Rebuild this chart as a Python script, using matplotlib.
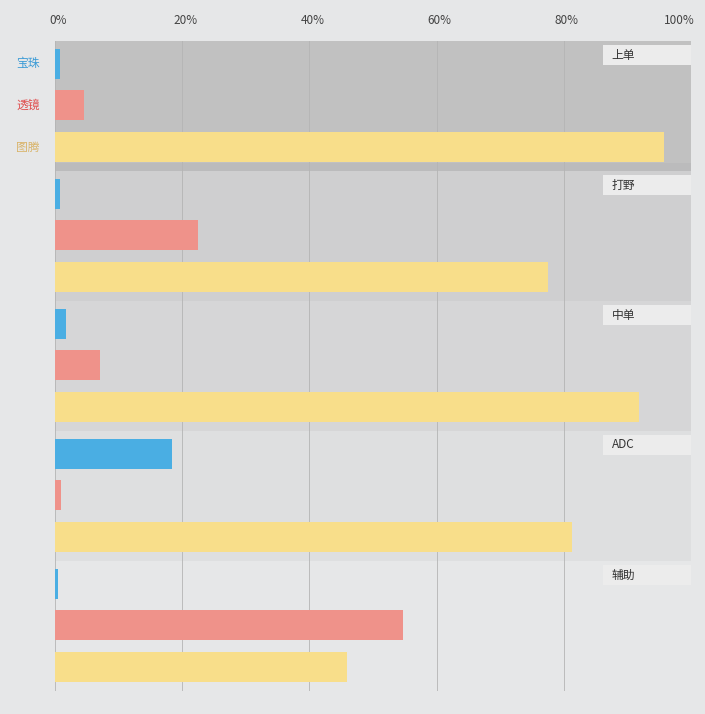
import matplotlib
matplotlib.use("Agg")
import matplotlib.pyplot as plt
from matplotlib.patches import Rectangle

plt.rcParams['font.family'] = ['Noto Sans CJK SC', 'DejaVu Sans']

roles = ["上单", "打野", "中单", "ADC", "辅助"]
items = ["宝珠", "透镜", "图腾"]
baozhu = [0.8, 0.8, 1.7, 18.4, 0.4]
toujing = [4.5, 22.5, 7.1, 1.0, 54.7]
tuteng = [95.7, 77.5, 91.8, 81.3, 45.9]
ticks = [0, 20, 40, 60, 80, 100]

colors = ["#4aaee3", "#ef928a", "#f8de8a"]
label_colors = ["#3b9bd6", "#e05050", "#d9b46a"]
band_colors = ["#c1c1c1", "#cfcfd0", "#d6d6d7", "#dedfe0", "#e6e7e8"]
bg = "#e6e7e8"

fig = plt.figure(figsize=(7.05, 7.14), dpi=100, facecolor=bg)
W, H = 705, 714
ax = fig.add_axes([55/W, (H-691)/H, 636/W, 650/H])
ax.set_facecolor(bg)
ax.set_xlim(0, 100)
ax.set_ylim(650, 0)

band_h = 130
for i, role in enumerate(roles):
    y0 = i*band_h
    ax.add_patch(Rectangle((0, y0), 100, band_h, color=band_colors[i], zorder=0, lw=0))
    if i == 0:
        ax.add_patch(Rectangle((0, y0+122), 100, 8, color="#bbbbbc", zorder=0.5, lw=0))
    vals = [baozhu[i], toujing[i], tuteng[i]]
    for j, v in enumerate(vals):
        ax.barh(y0 + [23, 64, 106][j], v, height=30, color=colors[j], zorder=2, lw=0)
    ax.add_patch(Rectangle((86.2, y0+4), 13.8, 20, color="#ececec", zorder=3, lw=0))
    ax.text(87.5, y0+14, role, fontsize=8.5, color="#333333", va="center", ha="left", zorder=4)

for t in ticks:
    ax.axvline(t, color="#b4b4b4", lw=0.6, zorder=1)

for j, it in enumerate(items):
    ax.text(-4.25, [23, 64, 106][j], it, color=label_colors[j], fontsize=8.5, ha="center", va="center")

ax.set_xticks(ticks)
ax.set_xticklabels([])
for t in ticks:
    ax.text(t + (-1.8 if t == 100 else 0.5), -21, f"{t}%", fontsize=8.5, color="#444444",
            ha="center", va="center")
ax.xaxis.tick_top()
ax.tick_params(axis='x', length=0)
ax.set_yticks([])
for s in ax.spines.values():
    s.set_visible(False)

fig.savefig("out.png", dpi=100, facecolor=bg)
